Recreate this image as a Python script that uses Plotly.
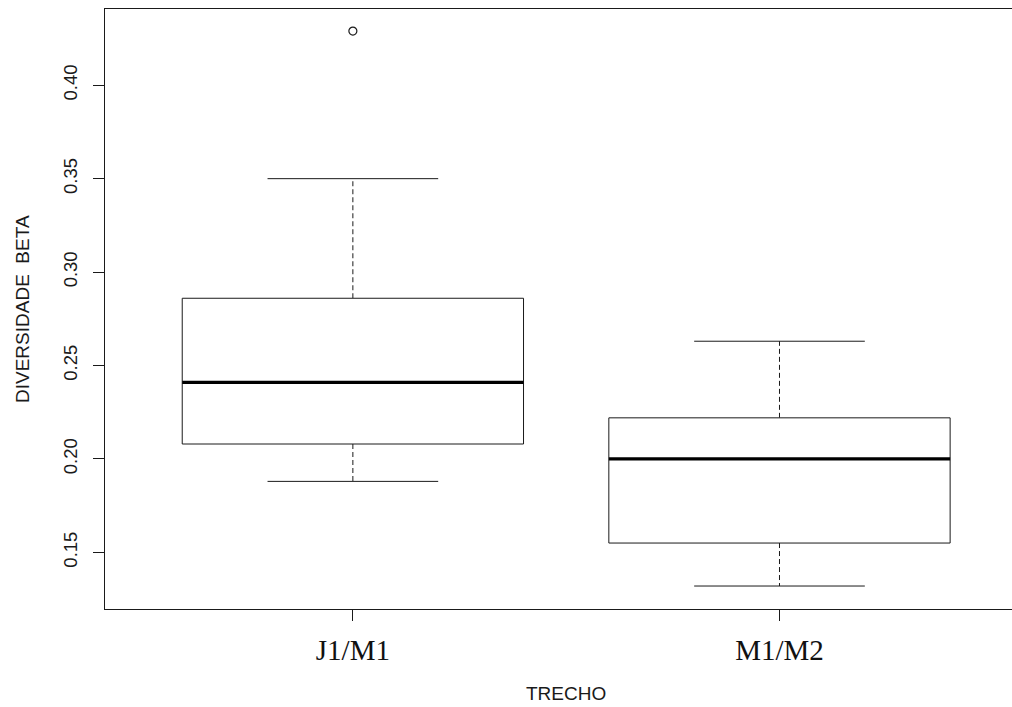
import plotly.graph_objects as go

# ---- data ----
categories = ["J1/M1", "M1/M2"]
lower_whisker = [0.188, 0.132]
q1 = [0.208, 0.155]
median = [0.241, 0.200]
q3 = [0.286, 0.222]
upper_whisker = [0.350, 0.263]
outliers = [[0.429], []]
y_ticks = [0.15, 0.20, 0.25, 0.30, 0.35, 0.40]
y_tick_text = ["0.15", "0.20", "0.25", "0.30", "0.35", "0.40"]

# ---- style ----
BOX_HALF = 0.4
CAP_HALF = 0.2
LINE = "#1a1a1a"
TXT = "#1a1a1a"

fig = go.Figure()

for i, cat in enumerate(categories):
    pos = i + 1
    # dashed whiskers
    for a, b in ((q3[i], upper_whisker[i]), (q1[i], lower_whisker[i])):
        fig.add_trace(go.Scatter(x=[pos, pos], y=[a, b], mode="lines",
                                 line=dict(color=LINE, width=1, dash="5px,3px"),
                                 hoverinfo="skip", showlegend=False))
    # whisker caps
    for v in (upper_whisker[i], lower_whisker[i]):
        fig.add_trace(go.Scatter(x=[pos - CAP_HALF, pos + CAP_HALF], y=[v, v], mode="lines",
                                 line=dict(color=LINE, width=1),
                                 hoverinfo="skip", showlegend=False))
    # box
    fig.add_trace(go.Scatter(
        x=[pos - BOX_HALF, pos + BOX_HALF, pos + BOX_HALF, pos - BOX_HALF, pos - BOX_HALF],
        y=[q1[i], q1[i], q3[i], q3[i], q1[i]], mode="lines",
        line=dict(color=LINE, width=1), fill="toself", fillcolor="white",
        hoverinfo="skip", showlegend=False))
    # median
    fig.add_trace(go.Scatter(x=[pos - BOX_HALF, pos + BOX_HALF], y=[median[i], median[i]],
                             mode="lines", line=dict(color="black", width=3.2),
                             hoverinfo="skip", showlegend=False))
    # outliers
    if outliers[i]:
        fig.add_trace(go.Scatter(x=[pos] * len(outliers[i]), y=outliers[i], mode="markers",
                                 marker=dict(symbol="circle-open", size=8, color=LINE,
                                             line=dict(width=1.2, color=LINE)),
                                 hoverinfo="skip", showlegend=False))

fig.update_layout(
    width=1012, height=707,
    margin=dict(l=105, r=0, t=9, b=98),
    plot_bgcolor="white", paper_bgcolor="white",
    font=dict(family="Liberation Sans, Arial, sans-serif", color=TXT),
    xaxis=dict(
        range=[0.419, 2.545],
        tickmode="array", tickvals=[1, 2], ticktext=categories,
        tickfont=dict(family="Liberation Serif, Times New Roman, serif", size=29, color="#111"),
        ticks="outside", ticklen=11, tickwidth=1, tickcolor=LINE,
        showline=True, linecolor=LINE, linewidth=1, mirror=True,
        showgrid=False, zeroline=False, ticklabelstandoff=4,
    ),
    yaxis=dict(
        range=[0.1197, 0.4408],
        tickmode="array", tickvals=y_ticks, ticktext=y_tick_text,
        tickangle=-90,
        tickfont=dict(family="Liberation Sans, Arial, sans-serif", size=18.5, color=TXT),
        ticks="outside", ticklen=11, tickwidth=1, tickcolor=LINE,
        showline=True, linecolor=LINE, linewidth=1, mirror=False,
        showgrid=False, zeroline=False, ticklabelstandoff=9,
    ),
    annotations=[
        dict(text="TRECHO", xref="x", yref="paper", x=1.5, y=0, yshift=-84,
             showarrow=False, font=dict(size=19, color=TXT), yanchor="middle"),
        dict(text="DIVERSIDADE  BETA", xref="paper", yref="paper", x=0, xshift=-83,
             y=0.5, textangle=-90, showarrow=False, font=dict(size=19, color=TXT),
             xanchor="center"),
    ],
)

fig.write_html(
    "out.html",
    config={"displayModeBar": False},
    post_script="document.body.style.margin='0';document.body.style.overflow='hidden';",
)
